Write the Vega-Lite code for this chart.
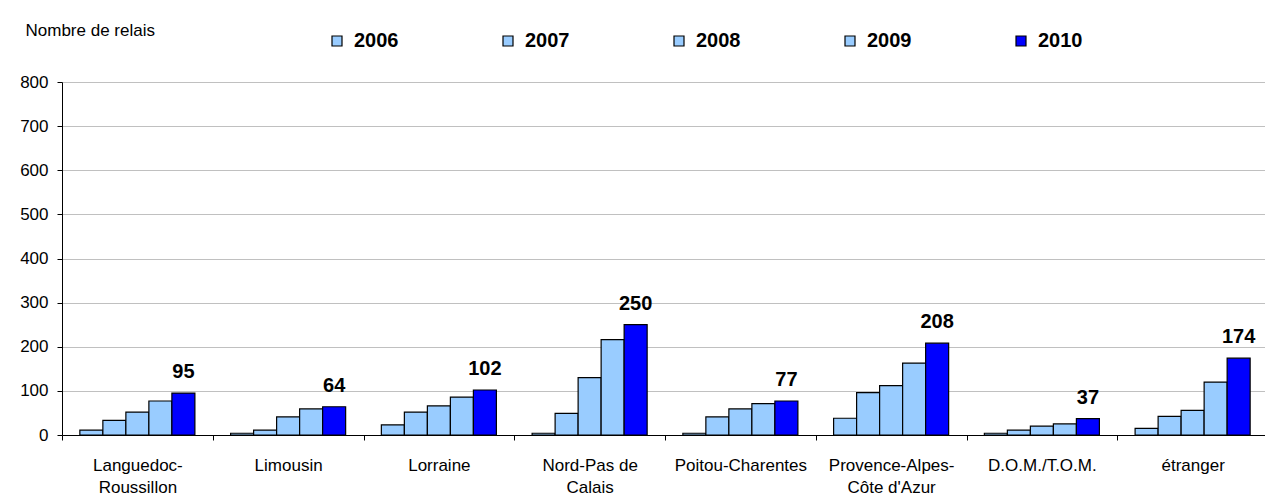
{
  "$schema": "https://vega.github.io/schema/vega-lite/v6.json",
  "width": 1206,
  "height": 353,
  "autosize": {"type": "none"},
  "padding": {"left": 62, "top": 82, "right": 0, "bottom": 61},
  "background": "white",
  "config": {"font": "Liberation Sans", "view": {"stroke": null}},
  "data": {
    "values": [
      {"region": "Languedoc-Roussillon", "year": "2006", "value": 11},
      {"region": "Languedoc-Roussillon", "year": "2007", "value": 33},
      {"region": "Languedoc-Roussillon", "year": "2008", "value": 52},
      {"region": "Languedoc-Roussillon", "year": "2009", "value": 77},
      {"region": "Languedoc-Roussillon", "year": "2010", "value": 95},
      {"region": "Limousin", "year": "2006", "value": 4},
      {"region": "Limousin", "year": "2007", "value": 11},
      {"region": "Limousin", "year": "2008", "value": 41},
      {"region": "Limousin", "year": "2009", "value": 59},
      {"region": "Limousin", "year": "2010", "value": 64},
      {"region": "Lorraine", "year": "2006", "value": 23},
      {"region": "Lorraine", "year": "2007", "value": 52},
      {"region": "Lorraine", "year": "2008", "value": 66},
      {"region": "Lorraine", "year": "2009", "value": 86},
      {"region": "Lorraine", "year": "2010", "value": 102},
      {"region": "Nord-Pas de Calais", "year": "2006", "value": 4},
      {"region": "Nord-Pas de Calais", "year": "2007", "value": 49},
      {"region": "Nord-Pas de Calais", "year": "2008", "value": 130},
      {"region": "Nord-Pas de Calais", "year": "2009", "value": 216},
      {"region": "Nord-Pas de Calais", "year": "2010", "value": 250},
      {"region": "Poitou-Charentes", "year": "2006", "value": 4},
      {"region": "Poitou-Charentes", "year": "2007", "value": 41},
      {"region": "Poitou-Charentes", "year": "2008", "value": 59},
      {"region": "Poitou-Charentes", "year": "2009", "value": 71},
      {"region": "Poitou-Charentes", "year": "2010", "value": 77},
      {"region": "Provence-Alpes-Côte d'Azur", "year": "2006", "value": 38},
      {"region": "Provence-Alpes-Côte d'Azur", "year": "2007", "value": 96},
      {"region": "Provence-Alpes-Côte d'Azur", "year": "2008", "value": 112},
      {"region": "Provence-Alpes-Côte d'Azur", "year": "2009", "value": 163},
      {"region": "Provence-Alpes-Côte d'Azur", "year": "2010", "value": 208},
      {"region": "D.O.M./T.O.M.", "year": "2006", "value": 4},
      {"region": "D.O.M./T.O.M.", "year": "2007", "value": 11},
      {"region": "D.O.M./T.O.M.", "year": "2008", "value": 20},
      {"region": "D.O.M./T.O.M.", "year": "2009", "value": 25},
      {"region": "D.O.M./T.O.M.", "year": "2010", "value": 37},
      {"region": "étranger", "year": "2006", "value": 15},
      {"region": "étranger", "year": "2007", "value": 42},
      {"region": "étranger", "year": "2008", "value": 56},
      {"region": "étranger", "year": "2009", "value": 120},
      {"region": "étranger", "year": "2010", "value": 174}
    ]
  },
  "encoding": {
    "x": {
      "field": "region",
      "type": "nominal",
      "sort": null,
      "scale": {"paddingInner": 0, "paddingOuter": 0},
      "axis": {
        "title": null,
        "tickBand": "extent",
        "tickSize": 5,
        "tickColor": "black",
        "domainColor": "black",
        "labelAngle": 0,
        "labelFontSize": 17,
        "labelColor": "black",
        "labelPadding": 17,
        "labelLineHeight": 22,
        "labelLimit": 0,
        "labelOverlap": false,
        "labelBound": false,
        "labelExpr": "datum.value == 'Languedoc-Roussillon' ? ['Languedoc-', 'Roussillon'] : datum.value == 'Nord-Pas de Calais' ? ['Nord-Pas de', 'Calais'] : datum.value == \"Provence-Alpes-Côte d'Azur\" ? ['Provence-Alpes-', \"Côte d'Azur\"] : datum.label",
        "grid": false
      }
    },
    "xOffset": {
      "field": "year",
      "type": "nominal",
      "scale": {"paddingInner": 0, "paddingOuter": 0.776}
    },
    "y": {
      "field": "value",
      "type": "quantitative",
      "scale": {"domain": [0, 800], "nice": false},
      "axis": {
        "title": "Nombre de relais",
        "titleAngle": 0,
        "titleAlign": "left",
        "titleBaseline": "alphabetic",
        "titleX": -37,
        "titleY": -47,
        "titleFontSize": 17,
        "titleFontWeight": "normal",
        "titleColor": "black",
        "values": [0, 100, 200, 300, 400, 500, 600, 700, 800],
        "tickSize": 5,
        "tickColor": "black",
        "domainColor": "black",
        "labelFontSize": 17,
        "labelColor": "black",
        "labelPadding": 9,
        "gridColor": "#C0C0C0",
        "gridWidth": 1
      }
    }
  },
  "layer": [
    {
      "mark": {"type": "bar", "stroke": "black", "strokeWidth": 1.2},
      "encoding": {
        "color": {
          "field": "year",
          "type": "nominal",
          "scale": {
            "domain": ["2006", "2007", "2008", "2009", "2010"],
            "range": ["#99CCFF", "#99CCFF", "#99CCFF", "#99CCFF", "#0000FF"]
          },
          "legend": {
            "orient": "none",
            "legendX": 265,
            "legendY": -51,
            "direction": "horizontal",
            "columns": 5,
            "title": null,
            "symbolType": "square",
            "symbolSize": 100,
            "symbolStrokeColor": "black",
            "symbolStrokeWidth": 1.2,
            "symbolOpacity": 1,
            "labelFontSize": 20,
            "labelFontWeight": "bold",
            "labelColor": "black",
            "labelOffset": 7,
            "columnPadding": 99,
            "padding": 0
          }
        }
      }
    },
    {
      "transform": [{"filter": "datum.year == '2010'"}],
      "mark": {
        "type": "text",
        "fontWeight": "bold",
        "fontSize": 20,
        "dy": -15,
        "baseline": "alphabetic",
        "color": "black"
      },
      "encoding": {"text": {"field": "value", "type": "quantitative"}}
    }
  ]
}
